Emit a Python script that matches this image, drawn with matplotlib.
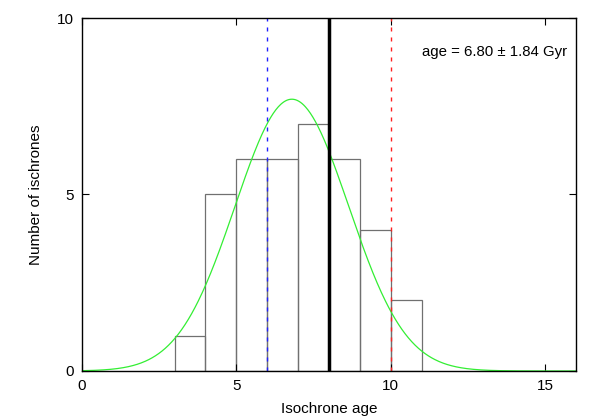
import numpy as np
import matplotlib
matplotlib.use("Agg")
import matplotlib.pyplot as plt

plt.rcParams['font.family'] = ['Liberation Sans', 'DejaVu Sans']

# Data
bin_edges = [3, 4, 5, 6, 7, 8, 9, 10, 11]
counts = [1, 5, 6, 6, 7, 6, 4, 2]
fit_mean = 6.80
fit_sigma = 1.84
fit_amp = 7.7
line_blue = 6.0
line_black = 8.0
line_red = 10.0
x_ticks = [0, 5, 10, 15]
y_ticks = [0, 5, 10]

fig = plt.figure(figsize=(5.98, 4.19), dpi=100)
ax = fig.add_axes([0.137, 0.1146, 0.826, 0.8424])

# Histogram as outlined bars
for i, c in enumerate(counts):
    ax.bar(bin_edges[i], c, width=bin_edges[i+1]-bin_edges[i], align='edge',
           fill=False, edgecolor='#707070', linewidth=0.9)

xs = np.linspace(0, 16, 600)
ys = fit_amp * np.exp(-0.5 * ((xs - fit_mean) / fit_sigma) ** 2)
ax.plot(xs, ys, color='#33ee33', linewidth=0.9)

ax.axvline(line_blue, color='#2020ff', linestyle=(0, (2.9, 4.3)), linewidth=1.0)
ax.axvline(line_red, color='#ff2020', linestyle=(0, (2.9, 4.3)), linewidth=1.0)
ax.axvline(line_black, color='black', linewidth=2.5)

ax.set_xlim(0, 16)
ax.set_ylim(0, 10)
ax.set_xticks(x_ticks)
ax.set_yticks(y_ticks)
ax.tick_params(direction='in', length=5, top=True, right=True, labelsize=11, pad=6)
for s in ax.spines.values():
    s.set_linewidth(1.0)

ax.set_xlabel('Isochrone age', fontsize=11, labelpad=6)
ax.set_ylabel('Number of ischrones', fontsize=11, labelpad=10)

ax.text(0.982, 0.905, 'age = 6.80 ± 1.84 Gyr', transform=ax.transAxes,
        ha='right', va='center', fontsize=10.8)

fig.savefig('out.png', dpi=100)
